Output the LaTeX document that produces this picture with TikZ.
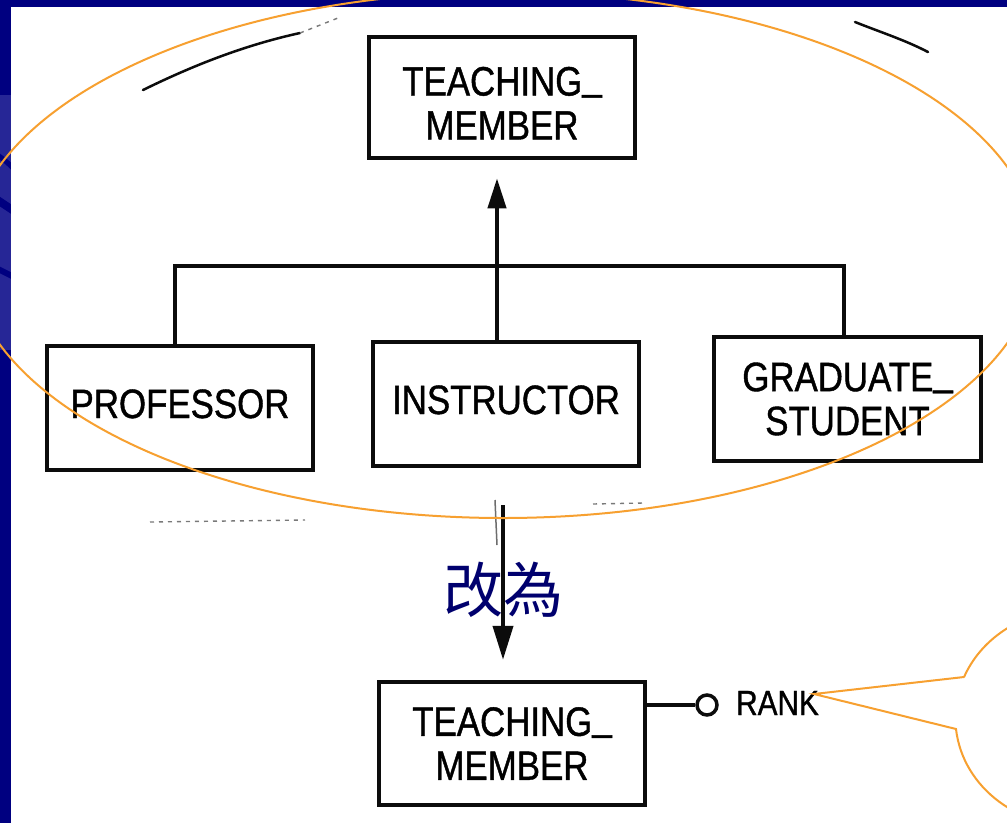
\documentclass[tikz,border=0pt]{standalone}
\usepackage{fontspec}
\usetikzlibrary{arrows.meta,calc}
\newfontfamily\boxfont[FakeStretch=0.85,FakeBold=1]{Liberation Sans}
\newfontfamily\cjkfont{Noto Sans CJK TC}
\newcommand{\lowbar}{\raisebox{6pt}{\_}}
\definecolor{slide}{RGB}{0,0,128}
\definecolor{swoosh}{RGB}{38,38,150}
\definecolor{hilite}{RGB}{247,160,48}
\definecolor{ink}{RGB}{12,12,12}
\definecolor{cjkink}{RGB}{0,0,110}

\begin{document}
\begin{tikzpicture}[x=1pt,y=-1pt,
  entity/.style={draw=ink, line width=4.5pt, minimum width=266pt,
    minimum height=124pt, inner sep=0pt, align=center,
    font=\boxfont\fontsize{41}{44}\selectfont},
  oneline/.style={text height=30pt, text depth=10pt},
  conn/.style={draw=ink, line width=4pt},
  head/.style={-{Triangle[length=30pt,width=18pt]}},
  hiline/.style={hilite, line width=2pt},
  smudge/.style={ink!55, line width=1.4pt, dash pattern=on 4pt off 5pt}]

  % slide background and scanned page
  \useasboundingbox (0,0) rectangle (1007,823);
  \fill[slide] (0,0) rectangle (1007,823);
  \begin{scope}
    \clip (0,7) rectangle (11,823);
    \fill[swoosh] (0,95) rectangle (11,350);
    \draw[slide, line width=5pt] (-10,150) .. controls (5,160) .. (20,175);
    \draw[slide, line width=8pt] (-10,195) .. controls (5,205) .. (20,215);
    \draw[slide, line width=6pt] (-10,265) .. controls (5,272) .. (20,280);
  \end{scope}
  \fill[white] (11,7) rectangle (1007,823);

  % stray scan marks
  \draw[ink, line width=2.5pt, line cap=round] (143,90) .. controls (200,62) and (250,44) .. (300,33);
  \draw[smudge] (300,33) -- (338,18);
  \draw[ink, line width=2.5pt, line cap=round] (855,22) .. controls (880,32) and (905,40) .. (928,52);
  \draw[smudge] (150,522) -- (305,520);
  \draw[smudge] (593,504) -- (643,503);
  \draw[ink!60, line width=1.5pt] (495,500) -- (497,545);

  % entity boxes
  \node[entity, minimum height=121pt, text height=84pt] (top) at (502,97.5) {TEACHING\lowbar\\MEMBER};
  \node[entity, oneline] (prof) at (180,408) {PROFESSOR};
  \node[entity, oneline] (instr) at (506,404) {INSTRUCTOR};
  \node[entity, minimum width=267pt] (grad) at (847.5,399) {GRADUATE\lowbar\\STUDENT};
  \node[entity, minimum height=123pt] (lower) at (512,743.5) {TEACHING\lowbar\\MEMBER};

  % generalisation tree
  \coordinate (hub) at (497,266);
  \draw[conn] ([xshift=-5pt]prof.north) |- (hub);
  \draw[conn] ([xshift=-3.5pt]grad.north) |- (hub);
  \draw[conn] ([xshift=-9pt]instr.north) -- (hub);
  \draw[conn, head, shorten >=18pt] (hub) -- (top.south -| hub);

  % replacement arrow
  \coordinate (drop) at (503,505);
  \draw[conn, -{Triangle[length=34pt,width=20pt]}, shorten >=20pt] (drop) -- (lower.north -| drop);
  \node[text=cjkink, font=\cjkfont\fontsize{60}{60}\selectfont] (chg) at (503,590) {改為};

  % attribute
  \node[circle, draw=ink, line width=3.5pt, minimum size=20pt, inner sep=0pt] (att) at (707,705) {};
  \draw[conn, line width=3.5pt] ([yshift=38.5pt]lower.east) -- (att);
  \node[anchor=west, inner sep=0pt, font=\boxfont\fontsize{35}{35}\selectfont] (rank) at (736,703) {RANK};

  % highlight oval and callout
  \draw[hiline] (503,255) ellipse [x radius=535pt, y radius=263pt];
  \coordinate (tip) at (814,694);
  \coordinate (wa) at (964,677);
  \coordinate (wb) at (956,729);
  \draw[hiline, line join=miter] (wa) -- (tip) -- (wb)
    arc[start angle=-174, end angle=158, x radius=118pt, y radius=108pt];
\end{tikzpicture}
\end{document}
